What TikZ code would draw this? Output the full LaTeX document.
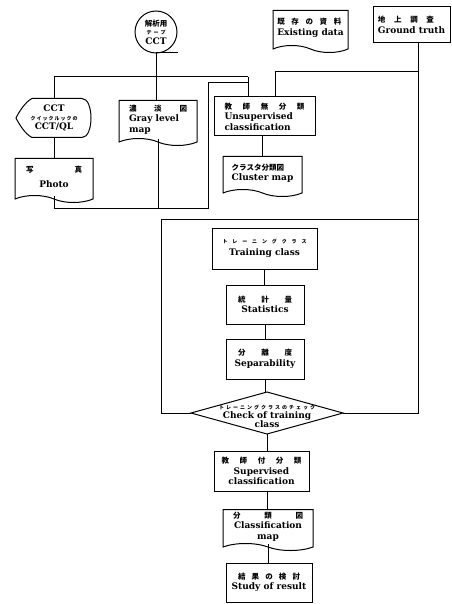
\documentclass[tikz,border=0pt]{standalone}
\usepackage{fontspec}
\setmainfont{DejaVu Serif}
\newfontfamily\jp{Noto Sans CJK JP}
\usetikzlibrary{calc,shapes.geometric,shapes.symbols}
\newcommand\en{\fontsize{9}{10.5}\selectfont\bfseries}
\newcommand\ja{\jp\fontsize{7.5}{9}\selectfont}
\newcommand\jas{\jp\fontsize{5}{6}\selectfont}
\tikzset{
  ln/.style={line width=1pt, draw=black},
  box/.style={draw, ln, inner sep=0pt, align=center, font=\en},
  plain/.style={inner sep=0pt, align=center, font=\en},
  docu/.style={tape, draw, ln, tape bend top=none, tape bend bottom=out and in,
    tape bend height=7pt, inner sep=0pt, align=left, font=\en},
}
\begin{document}
\begin{tikzpicture}[x=1pt,y=-1pt]
\useasboundingbox (0,0) rectangle (451,604);

% ---- tape (circle) and display outlines ----
\draw[ln] (156,32) circle[radius=21];
\draw[ln] (156,53) -- (178,53);
\draw[ln] (32,98.5) -- (82,98.5) .. controls (94,98.5) and (94,137.5) .. (82,137.5)
  -- (32,137.5) .. controls (25,134) and (19,124) .. (16,118)
  .. controls (19,112) and (25,102) .. (32,98.5) -- cycle;
\draw[ln] (191,413) -- (267,392) -- (343,413) -- (267,434) -- cycle;

% ---- nodes ----
\node[plain, minimum size=42pt] (tape) at (156,32)
  {{\ja 解析用}\\[-2pt]{\jas テ\hspace{2pt}ー\hspace{2pt}プ}\\[-1pt]{\en CCT}};

\node[plain, minimum width=76pt, minimum height=39pt] (cctql) at (54,118)
  {CCT\\[-2pt]{\jas ク\hspace{1pt}イ\hspace{1pt}ッ\hspace{1pt}ク\hspace{1pt}ル\hspace{1pt}ッ\hspace{1pt}ク\hspace{1pt}の}\\[-1pt]CCT/QL};

\node[docu, align=center, minimum width=78pt, minimum height=44pt] (photo) at (54,177)
  {\makebox[56pt]{\ja 写\hfill 真}\\[4pt]Photo};

\node[docu, minimum width=78pt, minimum height=45pt] (gray) at (158,119.5)
  {\makebox[58pt]{\ja 濃\hfill 淡\hfill 図}\\Gray level\\map};

\node[box, align=left, minimum width=101pt, minimum height=39pt] (unsup) at (264.5,116.5)
  {\makebox[80pt]{\ja 教\hfill 師\hfill 無\hfill 分\hfill 類}\\Unsupervised\\classification};

\node[docu, minimum width=79pt, minimum height=40pt] (cluster) at (262.5,173)
  {{\ja クラスタ分類図}\\Cluster map};

\node[docu, minimum width=75pt, minimum height=42pt] (exist) at (310.5,28)
  {\makebox[64pt]{\ja 既\hfill 存\hfill の\hfill 資\hfill 料}\\Existing data};

\node[box, align=left, minimum width=77pt, minimum height=36pt] (ground) at (411.5,25)
  {\makebox[56pt][l]{\ja 地\hfill 上\hfill 調\hfill 査}\\Ground truth};

\node[box, minimum width=105pt, minimum height=41pt] (train) at (264.5,248.5)
  {\makebox[84pt]{\jas ト\hfill レ\hfill ー\hfill ニ\hfill ン\hfill グ\hfill ク\hfill ラ\hfill ス}\\[1pt]Training class};

\node[box, minimum width=78pt, minimum height=39pt] (stat) at (265,304.5)
  {\makebox[54pt]{\ja 統\hfill 計\hfill 量}\\Statistics};

\node[box, minimum width=78pt, minimum height=40pt] (sep) at (265,359)
  {\makebox[54pt]{\ja 分\hfill 離\hfill 度}\\Separability};

\node[diamond, minimum width=152pt, minimum height=42pt, inner sep=0pt] (chk) at (267,413) {};
\node[plain] (chkt) at (267,416)
  {\makebox[96pt]{\jas ト\hfill レ\hfill ー\hfill ニ\hfill ン\hfill グ\hfill ク\hfill ラ\hfill ス\hfill の\hfill チ\hfill ェ\hfill ッ\hfill ク}\\[-1pt]Check of training\\[-2pt]class};

\node[box, minimum width=95pt, minimum height=40pt] (sup) at (261.5,471)
  {\makebox[80pt]{\ja 教\hfill 師\hfill 付\hfill 分\hfill 類}\\Supervised\\classification};

\node[docu, align=center, minimum width=90pt, minimum height=41pt] (clsmap) at (268,526.5)
  {\makebox[70pt]{\ja 分\hfill 類\hfill 図}\\Classification\\map};

\node[box, minimum width=86pt, minimum height=39pt] (study) at (269,582.5)
  {\makebox[62pt]{\ja 結\hfill 果\hfill の\hfill 検\hfill 討}\\Study of result};

% ---- junction coordinates ----
\coordinate (h1l) at (54,77);
\coordinate (h1r) at (248,77);
\coordinate (bl) at (54,208);
\coordinate (br) at (208,208);
\coordinate (bt) at (208,83);
\coordinate (h2l) at (275,72);
\coordinate (h2r) at (418,72);
\coordinate (tl) at (161,219);
\coordinate (tr) at (418,219);

% ---- connectors ----
\draw[ln] (tape.south) -- (tape.south |- gray.north);
\draw[ln] (h1l) -- (h1r);
\draw[ln] (h1l) -- (h1l |- cctql.north);
\draw[ln] (h1r) -- (h1r |- unsup.north);
\draw[ln] (cctql.south) -- (photo.north);
\draw[ln] (photo.south) -- (bl) -- (br) -- (bt) -- (bt -| h1r);
\draw[ln] (gray.south) -- (gray.south |- bl);
\draw[ln] ($(exist.south)+(2.5,0)$) -- ($(exist.south)+(2.5,0)$ |- h2l);
\draw[ln] (h2l) -- (h2r);
\draw[ln] (h2l) -- (h2l |- unsup.north);
\draw[ln] (ground.south -| h2r) -- (chk.east -| h2r) -- (chk.east);
\draw[ln] (cluster.north |- unsup.south) -- (cluster.north);
\draw[ln] ($(cluster.south)+(1.5,0)$) -- ($(cluster.south)+(1.5,0)$ |- train.north);
\draw[ln] (tl) -- (tr);
\draw[ln] (tl) -- (tl |- chk.west) -- (chk.west);
\draw[ln] (train.south) -- (train.south |- stat.north);
\draw[ln] (stat.south) -- (sep.north);
\draw[ln] (sep.south) -- (sep.south |- chk.north);
\draw[ln] (chk.south) -- (chk.south |- sup.north);
\draw[ln] (chk.south |- sup.south) -- (chk.south |- clsmap.north);
\draw[ln] (clsmap.south) -- (clsmap.south |- study.north);
\end{tikzpicture}
\end{document}
